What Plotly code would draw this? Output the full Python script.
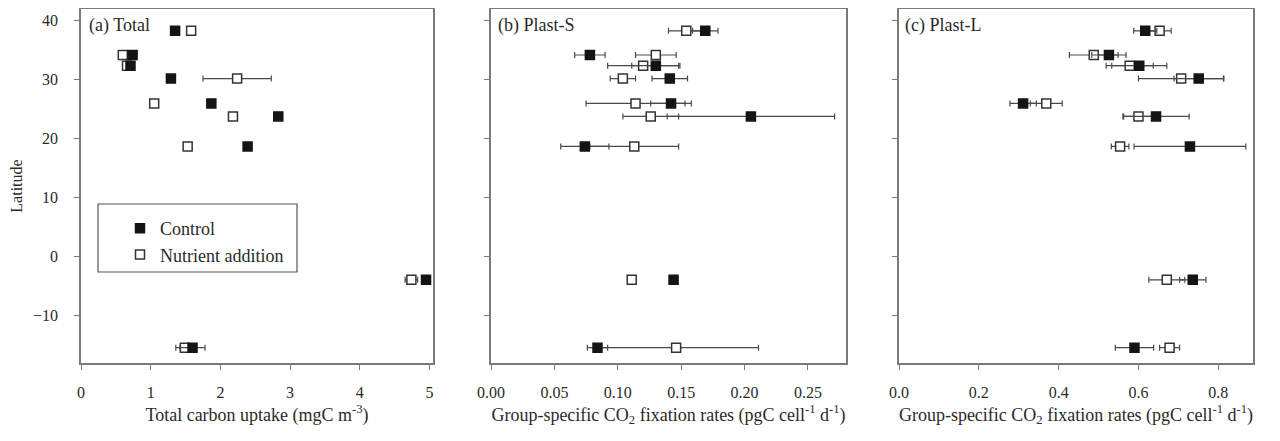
import plotly.graph_objects as go

# ---------------- data ----------------
latitude = [38.3, 34.2, 32.4, 30.2, 26.0, 23.8, 18.7, -3.9, -15.4]

# (a) Total carbon uptake (mgC m-3)
total_control = [1.35, 0.74, 0.71, 1.29, 1.87, 2.83, 2.39, 4.95, 1.60]
total_control_err = [0.05, 0.05, 0.05, 0.05, 0.05, 0.05, 0.05, 0.05, 0.18]
total_nutrient = [1.58, 0.60, 0.66, 2.24, 1.05, 2.18, 1.53, 4.74, 1.49]
total_nutrient_err = [0.05, 0.05, 0.05, 0.49, 0.05, 0.05, 0.05, 0.09, 0.13]

# (b) Plast-S group-specific CO2 fixation (pgC cell-1 d-1)
ps_control = [0.169, 0.078, 0.130, 0.141, 0.142, 0.205, 0.074, 0.144, 0.084]
ps_control_err = [0.010, 0.012, 0.019, 0.014, 0.016, 0.066, 0.019, 0.003, 0.008]
ps_nutrient = [0.154, 0.130, 0.120, 0.104, 0.114, 0.126, 0.113, 0.111, 0.146]
ps_nutrient_err = [0.014, 0.016, 0.028, 0.010, 0.039, 0.022, 0.035, 0.003, 0.065]

# (c) Plast-L group-specific CO2 fixation (pgC cell-1 d-1)
pl_control = [0.617, 0.526, 0.602, 0.751, 0.311, 0.644, 0.729, 0.736, 0.590]
pl_control_err = [0.029, 0.043, 0.069, 0.062, 0.033, 0.083, 0.140, 0.033, 0.048]
pl_nutrient = [0.653, 0.488, 0.578, 0.707, 0.369, 0.600, 0.554, 0.671, 0.678]
pl_nutrient_err = [0.029, 0.061, 0.059, 0.107, 0.040, 0.037, 0.022, 0.045, 0.025]

panel_labels = ["(a) Total", "(b) Plast-S", "(c) Plast-L"]
x_titles = ["Total carbon uptake (mgC m<sup>-3</sup>)",
            "Group-specific CO<sub>2</sub> fixation rates (pgC cell<sup>-1</sup> d<sup>-1</sup>)",
            "Group-specific CO<sub>2</sub> fixation rates (pgC cell<sup>-1</sup> d<sup>-1</sup>)"]
x_ranges = [[0, 5.05], [0, 0.28], [0, 0.887]]
x_ticks = [[0, 1, 2, 3, 4, 5],
           [0.0, 0.05, 0.10, 0.15, 0.20, 0.25],
           [0.0, 0.2, 0.4, 0.6, 0.8]]
x_ticktext = [["0", "1", "2", "3", "4", "5"],
              ["0.00", "0.05", "0.10", "0.15", "0.20", "0.25"],
              ["0.0", "0.2", "0.4", "0.6", "0.8"]]
y_ticks = [-10, 0, 10, 20, 30, 40]

FONT = "Liberation Serif, Times New Roman, serif"
AXIS_COLOR = "#7a7a7a"
ERR_COLOR = "#4a4a4a"
TEXT_COLOR = "#2a2a2a"

fig = go.Figure()

panels = [
    (total_control, total_control_err, total_nutrient, total_nutrient_err),
    (ps_control, ps_control_err, ps_nutrient, ps_nutrient_err),
    (pl_control, pl_control_err, pl_nutrient, pl_nutrient_err),
]

for i, (c, ce, n, ne) in enumerate(panels):
    xa = "x" if i == 0 else f"x{i+1}"
    ya = "y" if i == 0 else f"y{i+1}"
    fig.add_trace(go.Scatter(
        x=n, y=latitude, xaxis=xa, yaxis=ya, mode="markers",
        name="Nutrient addition", legendgroup="nut", legendrank=2,
        showlegend=(i == 0),
        marker=dict(symbol="square", size=9, color="white",
                    line=dict(color="#333333", width=1.5)),
        error_x=dict(type="data", array=ne, symmetric=True,
                     color=ERR_COLOR, thickness=1.2, width=3),
    ))
    fig.add_trace(go.Scatter(
        x=c, y=latitude, xaxis=xa, yaxis=ya, mode="markers",
        name="Control", legendgroup="ctl", legendrank=1,
        showlegend=(i == 0),
        marker=dict(symbol="square", size=9, color="#141414",
                    line=dict(color="#141414", width=1.5)),
        error_x=dict(type="data", array=ce, symmetric=True,
                     color=ERR_COLOR, thickness=1.2, width=3),
    ))

# The page body adds an 8 px margin; positions below are reference pixels.
OFF = 8
W, H = 1280 - 2 * OFF, 441 - 2 * OFF
L, T = 81 - OFF, 9 - OFF
R = W - (1253 - OFF)
B = H - (363 - OFF)
PW, PH = W - L - R, H - T - B

def px_x(p):
    return (p - OFF - L) / PW

def px_y(p):
    return 1 - (p - OFF - T) / PH

domains = [[px_x(81), px_x(433)], [px_x(491), px_x(846)], [px_x(899), px_x(1253)]]

layout = dict(
    width=W, height=H,
    margin=dict(l=L, r=R, t=T, b=B),
    paper_bgcolor="white", plot_bgcolor="white",
    font=dict(family=FONT, size=16, color=TEXT_COLOR),
    showlegend=True,
    legend=dict(x=px_x(120), y=px_y(210), xanchor="left", yanchor="top",
                bgcolor="rgba(0,0,0,0)", borderwidth=0,
                font=dict(family=FONT, size=18, color=TEXT_COLOR),
                tracegroupgap=0, traceorder="normal"),
)

for i in range(3):
    xk = "xaxis" if i == 0 else f"xaxis{i+1}"
    yk = "yaxis" if i == 0 else f"yaxis{i+1}"
    layout[xk] = dict(
        domain=domains[i], range=x_ranges[i], anchor="y" if i == 0 else f"y{i+1}",
        tickvals=x_ticks[i], ticktext=x_ticktext[i],
        showgrid=False, zeroline=False, showline=True, mirror=True,
        linecolor=AXIS_COLOR, linewidth=1.5,
        ticks="outside", ticklen=5, tickcolor=AXIS_COLOR, tickwidth=1,
        ticklabelstandoff=9, automargin=False,
        tickfont=dict(family=FONT, size=16, color=TEXT_COLOR),
        title=dict(text=x_titles[i], standoff=8,
                   font=dict(family=FONT, size=18, color=TEXT_COLOR)),
    )
    ydict = dict(
        domain=[0, 1], range=[-18, 42], anchor="x" if i == 0 else f"x{i+1}",
        tickvals=y_ticks, showticklabels=(i == 0),
        showgrid=False, zeroline=False, showline=True, mirror=True,
        linecolor=AXIS_COLOR, linewidth=1.5,
        ticks="outside", ticklen=5, tickcolor=AXIS_COLOR, tickwidth=1,
        ticklabelstandoff=13, automargin=False,
        tickfont=dict(family=FONT, size=16, color=TEXT_COLOR),
    )
    if i == 0:
        ydict["title"] = dict(text="Latitude", standoff=19,
                              font=dict(family=FONT, size=16, color=TEXT_COLOR))
    layout[yk] = ydict

fig.update_layout(**layout)

# legend frame
fig.add_shape(type="rect", xref="paper", yref="paper",
              x0=px_x(98), x1=px_x(297), y0=px_y(272), y1=px_y(204),
              line=dict(color="#555555", width=1.2), fillcolor="rgba(0,0,0,0)")

# panel labels
label_x = [87, 496, 903]
for i, lab in enumerate(panel_labels):
    fig.add_annotation(text=lab, xref="paper", yref="paper",
                       x=px_x(label_x[i]), y=px_y(25), xanchor="left", yanchor="middle",
                       showarrow=False,
                       font=dict(family=FONT, size=18, color=TEXT_COLOR))

fig.write_html("out.html")
